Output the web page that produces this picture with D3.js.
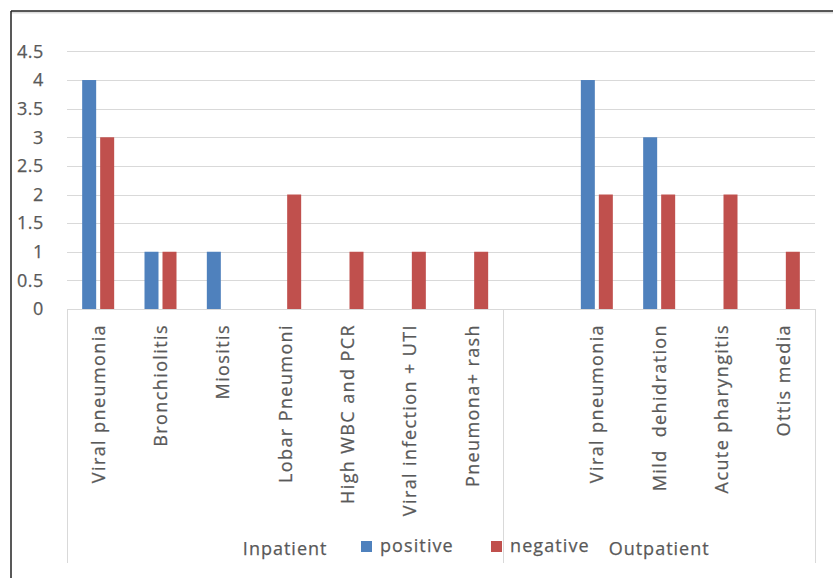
<!DOCTYPE html>
<html><head><meta charset="utf-8">
<script src="https://cdn.jsdelivr.net/npm/d3@7"></script>
<style>
html,body{margin:0;padding:0;background:#fff;}
svg{display:block;}
text{font-family:"Open Sans",sans-serif;fill:#595959;stroke:#595959;stroke-width:0.25px;}
</style></head>
<body>
<script>
const categories = ["Viral pneumonia","Bronchiolitis","Miositis","Lobar Pneumoni","High WBC and PCR","Viral infection + UTI","Pneumona+ rash","","Viral pneumonia","Mild  dehidration","Acute pharyngitis","Ottis media"];
const groups = [{name:"Inpatient", start:0, end:7},{name:"Outpatient", start:7, end:12}];
const positive = [4,1,1,0,0,0,0,null,4,3,0,0];
const negative = [3,1,0,2,1,1,1,null,2,2,2,1];
const seriesNames = ["positive","negative"];
const colors = ["#4f81bd","#c0504d"];
const yTicks = [0,0.5,1,1.5,2,2.5,3,3.5,4,4.5];

const W=833,H=578;
const svg=d3.select("body").append("svg").attr("width",W).attr("height",H);
// outer frame
svg.append("line").attr("x1",11).attr("x2",W).attr("y1",12.5).attr("y2",12.5).attr("stroke","#ddd").attr("stroke-width",2);
svg.append("line").attr("x1",11).attr("x2",W).attr("y1",11).attr("y2",11).attr("stroke","#222").attr("stroke-width",1.5);
svg.append("line").attr("x1",11).attr("x2",11).attr("y1",11).attr("y2",H).attr("stroke","#222").attr("stroke-width",1.5);

const L=67,R=815,T=51.4,B=309;
const x=d3.scaleBand().domain(d3.range(categories.length)).range([L,R]).padding(0);
const y=d3.scaleLinear().domain([0,4.5]).range([B,T]);

// gridlines
svg.append("g").selectAll("line").data(yTicks.filter(d=>d>0)).join("line")
 .attr("x1",L).attr("x2",R).attr("y1",d=>Math.round(y(d))+0.5).attr("y2",d=>Math.round(y(d))+0.5)
 .attr("stroke","#d9d9d9").attr("stroke-width",1);
// y axis labels
const yAxis=d3.axisLeft(y).tickValues(yTicks).tickSize(0).tickPadding(0).tickFormat(d3.format("~g"));
const ya=svg.append("g").attr("transform",`translate(${44},0)`).call(yAxis);
ya.select(".domain").remove();
ya.selectAll("text").style("font-size","18px").style("letter-spacing","0.6px").attr("fill","#595959").attr("font-family","Open Sans");

// bars
const bw=14;
const data=[];
categories.forEach((c,i)=>{
  if(positive[i]>0) data.push({i,s:0,v:positive[i]});
  if(negative[i]>0) data.push({i,s:1,v:negative[i]});
});
svg.append("g").selectAll("rect").data(data).join("rect")
 .attr("x",d=>x(d.i)+x.bandwidth()/2+(d.s===0?-16:2))
 .attr("width",bw)
 .attr("y",d=>y(d.v)).attr("height",d=>y(0)-y(d.v))
 .attr("fill",d=>colors[d.s]);

// category axis lines
svg.append("line").attr("x1",L).attr("x2",R).attr("y1",B+0.5).attr("y2",B+0.5).attr("stroke","#d9d9d9");
const sepX=[L, x(7), R];
svg.append("g").selectAll("line").data(sepX).join("line")
 .attr("x1",d=>Math.round(d)+0.5).attr("x2",d=>Math.round(d)+0.5).attr("y1",B).attr("y2",563)
 .attr("stroke","#d9d9d9");

// category labels
svg.append("g").selectAll("text").data(categories).join("text")
 .attr("transform",(d,i)=>`translate(${x(i)+x.bandwidth()/2+6.5},324) rotate(-90)`)
 .attr("text-anchor","end")
 .style("font-size","18px").style("letter-spacing","1.4px")
 .style("white-space","pre")
 .text(d=>d);

// group labels
svg.append("g").selectAll("text").data(groups).join("text")
 .attr("x",d=>(x(d.start)+ (d.end<categories.length?x(d.end):R))/2)
 .attr("y",555).attr("text-anchor","middle")
 .style("font-size","18px").style("letter-spacing","1px")
 .text(d=>d.name);

// legend
const leg=svg.append("g");
const legX=[361,491];
seriesNames.forEach((n,k)=>{
  leg.append("rect").attr("x",legX[k]).attr("y",541).attr("width",11).attr("height",11).attr("fill",colors[k]);
  leg.append("text").attr("x",legX[k]+19).attr("y",552).style("font-size","18px").style("letter-spacing","1.1px").text(n);
});
</script>
</body></html>
